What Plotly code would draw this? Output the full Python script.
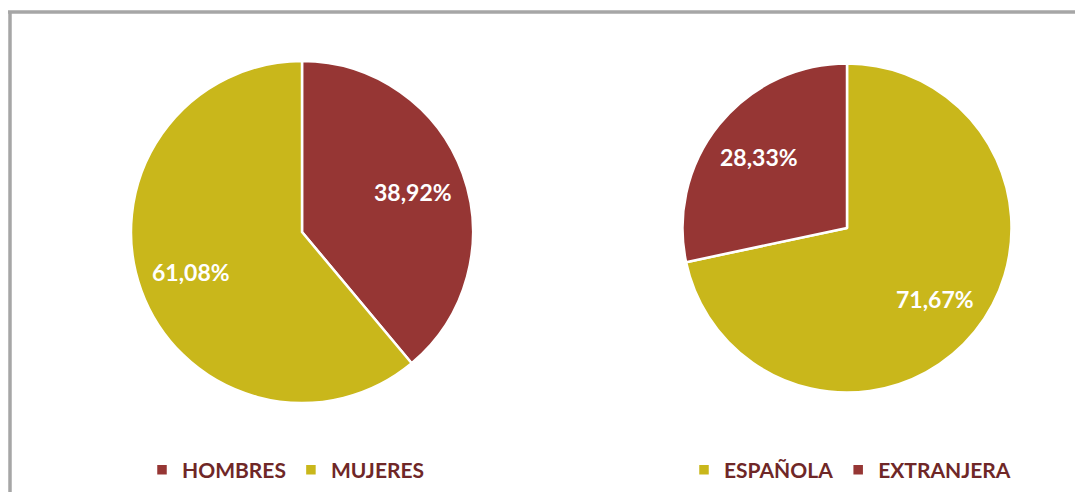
import math
import plotly.graph_objects as go

OFF = 8  # page body margin in the browser
W, H = 1083 - OFF, 492 - OFF  # figure fills the rest of the window

# data
sexo_labels = ['HOMBRES', 'MUJERES']
sexo_values = [38.92, 61.08]
nac_labels = ['ESPAÑOLA', 'EXTRANJERA']
nac_values = [71.67, 28.33]

RED = '#963634'
YELLOW = '#C9B71B'
TEXT = '#6F2727'
FONT = 'Lato'

# pie positions in figure pixels: (center x, center y, radius)
left_pie = (302 - OFF, 232 - OFF, 171)
right_pie = (847 - OFF, 228 - OFF, 164.5)


def domain(p):
    cx, cy, r = p
    return dict(x=[(cx - r) / W, (cx + r) / W], y=[1 - (cy + r) / H, 1 - (cy - r) / H])


def slice_labels(values, p, frac=0.69):
    # label at mid-angle of each slice, clockwise from 12 o'clock
    cx, cy, r = p
    total = sum(values)
    out, cum = [], 0
    for v in values:
        mid = (cum + v / 2) / total * 2 * math.pi
        cum += v
        x = cx + frac * r * math.sin(mid)
        y = cy - frac * r * math.cos(mid)
        txt = '{:.2f}%'.format(v).replace('.', ',')
        out.append(dict(x=x / W, y=1 - y / H, xref='paper', yref='paper', text='<b>%s</b>' % txt,
                        xanchor='center', yanchor='middle', showarrow=False,
                        font=dict(family=FONT, size=23, color='white')))
    return out


fig = go.Figure()
fig.add_trace(go.Pie(labels=sexo_labels, values=sexo_values, sort=False, direction='clockwise',
                     marker=dict(colors=[RED, YELLOW], line=dict(color='white', width=2.5)),
                     textinfo='none', hoverinfo='label+percent', domain=domain(left_pie), legend='legend'))
fig.add_trace(go.Pie(labels=nac_labels, values=nac_values, sort=False, direction='clockwise',
                     marker=dict(colors=[YELLOW, RED], line=dict(color='white', width=2.5)),
                     textinfo='none', hoverinfo='label+percent', domain=domain(right_pie), legend='legend2'))

legend_style = dict(orientation='h', yanchor='middle', y=1 - (470 - OFF) / H, xanchor='left',
                    font=dict(family=FONT, size=21, color=TEXT, weight='bold'),
                    bgcolor='rgba(0,0,0,0)', itemclick=False, itemdoubleclick=False)

annotations = slice_labels(sexo_values, left_pie) + slice_labels(nac_values, right_pie)

# chart-area frame: only its top and left edges fall inside the picture
bx = (10 - OFF) / W
by = 1 - (12 - OFF) / H
frame = dict(type='line', xref='paper', yref='paper', line=dict(color='#A6A6A6', width=3.5), layer='below')

fig.update_layout(
    width=W, height=H,
    margin=dict(l=0, r=0, t=0, b=0),
    paper_bgcolor='white', plot_bgcolor='white',
    showlegend=True,
    legend=dict(x=(142 - OFF) / W, **legend_style),
    legend2=dict(x=(684 - OFF) / W, **legend_style),
    annotations=annotations,
    shapes=[dict(x0=bx - 0.002, x1=1, y0=by, y1=by, **frame),
            dict(x0=bx, x1=bx, y0=0, y1=by, **frame)],
)

fig.write_html('out.html')
